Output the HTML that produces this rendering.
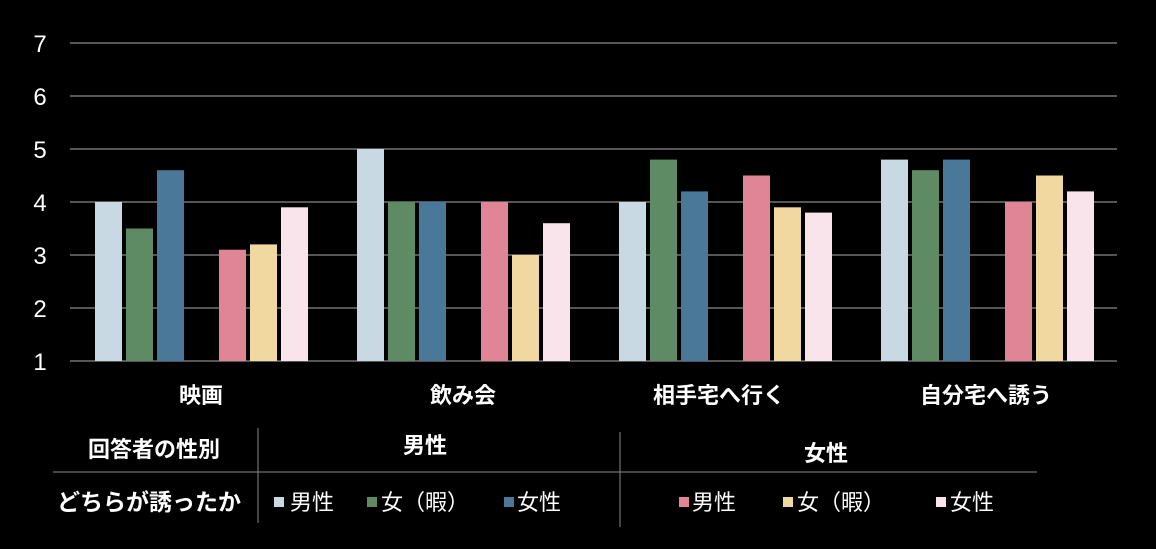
<!DOCTYPE html>
<html><head><meta charset="utf-8"><style>
html,body{margin:0;padding:0;background:#000;}
svg{display:block;font-family:"Liberation Sans","Noto Sans CJK JP",sans-serif;}
</style></head><body>
<svg width="1156" height="549" viewBox="0 0 1156 549">
<rect width="1156" height="549" fill="#000"/>
<g stroke="#8a8a8a" stroke-width="1.3">
<line x1="70" y1="43" x2="1117" y2="43"/>
<line x1="70" y1="96" x2="1117" y2="96"/>
<line x1="70" y1="149" x2="1117" y2="149"/>
<line x1="70" y1="202" x2="1117" y2="202"/>
<line x1="70" y1="255" x2="1117" y2="255"/>
<line x1="70" y1="308" x2="1117" y2="308"/>
<line x1="70" y1="361" x2="1117" y2="361"/>
</g>
<g fill="#fff" font-size="24" text-anchor="middle">
<text x="40" y="52">7</text><text x="40" y="105">6</text><text x="40" y="158">5</text>
<text x="40" y="211">4</text><text x="40" y="264">3</text><text x="40" y="317">2</text><text x="40" y="370">1</text>
</g>
<g fill="#fff" font-size="22" font-weight="bold" text-anchor="middle">
<text x="201" y="403">映画</text><text x="463" y="403">飲み会</text>
<text x="719" y="403">相手宅へ行く</text><text x="986" y="403">自分宅へ誘う</text>
</g>
<g stroke="#888" stroke-width="1">
<line x1="258" y1="428" x2="258" y2="523"/>
<line x1="620" y1="432" x2="620" y2="527"/>
<line x1="53" y1="472" x2="1037" y2="472"/>
</g>
<g fill="#fff" font-size="22" font-weight="bold">
<text x="88" y="457">回答者の性別</text>
<text x="425" y="453" text-anchor="middle">男性</text>
<text x="826" y="461" text-anchor="middle">女性</text>
<text x="57" y="510" font-size="23">どちらが誘ったか</text>
</g>
<g font-size="22" fill="#fff">
<rect x="274" y="497" width="10" height="10" fill="#c8d9e4"/><text x="290" y="510">男性</text>
<rect x="367" y="497" width="10" height="10" fill="#5e8a64"/><text x="381" y="510">女（暇）</text>
<rect x="504" y="497" width="10" height="10" fill="#4a7898"/><text x="517" y="510">女性</text>
<rect x="679" y="497" width="10" height="10" fill="#e08595"/><text x="692" y="510">男性</text>
<rect x="783" y="497" width="10" height="10" fill="#f0d8a0"/><text x="797" y="510">女（暇）</text>
<rect x="936" y="497" width="10" height="10" fill="#f8e4ea"/><text x="950" y="510">女性</text>
</g>
<g>
<rect x="95" y="202" width="27" height="159" fill="#c8d9e4"/>
<rect x="126" y="228.5" width="27" height="132.5" fill="#5e8a64"/>
<rect x="157" y="170.2" width="27" height="190.8" fill="#4a7898"/>
<rect x="219" y="249.7" width="27" height="111.3" fill="#e08595"/>
<rect x="250" y="244.4" width="27" height="116.6" fill="#f0d8a0"/>
<rect x="281" y="207.3" width="27" height="153.7" fill="#f8e4ea"/>
<rect x="357" y="149" width="27" height="212" fill="#c8d9e4"/>
<rect x="388" y="202" width="27" height="159" fill="#5e8a64"/>
<rect x="419" y="202" width="27" height="159" fill="#4a7898"/>
<rect x="481" y="202" width="27" height="159" fill="#e08595"/>
<rect x="512" y="255" width="27" height="106" fill="#f0d8a0"/>
<rect x="543" y="223.2" width="27" height="137.8" fill="#f8e4ea"/>
<rect x="619" y="202" width="27" height="159" fill="#c8d9e4"/>
<rect x="650" y="159.6" width="27" height="201.4" fill="#5e8a64"/>
<rect x="681" y="191.4" width="27" height="169.6" fill="#4a7898"/>
<rect x="743" y="175.5" width="27" height="185.5" fill="#e08595"/>
<rect x="774" y="207.3" width="27" height="153.7" fill="#f0d8a0"/>
<rect x="805" y="212.6" width="27" height="148.4" fill="#f8e4ea"/>
<rect x="881" y="159.6" width="27" height="201.4" fill="#c8d9e4"/>
<rect x="912" y="170.2" width="27" height="190.8" fill="#5e8a64"/>
<rect x="943" y="159.6" width="27" height="201.4" fill="#4a7898"/>
<rect x="1005" y="202" width="27" height="159" fill="#e08595"/>
<rect x="1036" y="175.5" width="27" height="185.5" fill="#f0d8a0"/>
<rect x="1067" y="191.4" width="27" height="169.6" fill="#f8e4ea"/>
</g>
</svg>
</body></html>
